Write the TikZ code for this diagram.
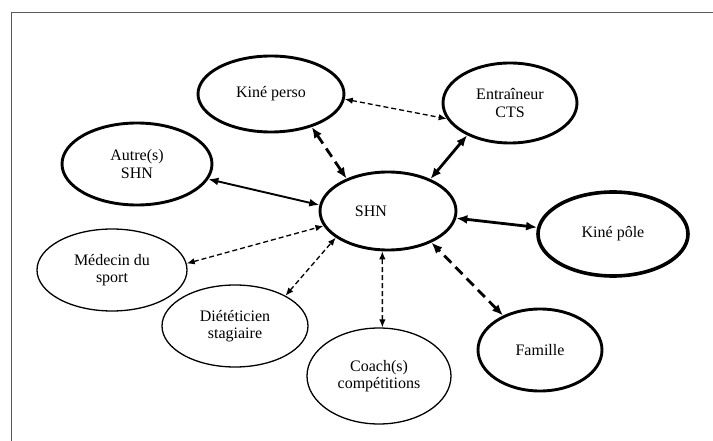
\documentclass[tikz,border=0pt]{standalone}
\usepackage{fontspec}
\setmainfont{Liberation Serif}
\usetikzlibrary{shapes.geometric,arrows.meta}
\begin{document}
\begin{tikzpicture}[x=1pt,y=-1pt,
  ell/.style={ellipse, draw, inner sep=0pt, align=center, font=\fontsize{16}{17.5}\selectfont},
  ellthick/.style={ell, line width=2.9pt},
  ellthin/.style={ell, line width=1.3pt},
  solidarr/.style={line width=2.8pt, {Latex[length=11pt,width=9pt]}-{Latex[length=11pt,width=9pt]}},
  midarr/.style={line width=1.9pt, {Latex[length=10pt,width=8pt]}-{Latex[length=10pt,width=8pt]}},
  bigdash/.style={line width=2.8pt, dash pattern=on 10pt off 6pt, {Latex[length=11pt,width=9pt]}-{Latex[length=11pt,width=9pt]}},
  smalldash/.style={line width=1.3pt, dash pattern=on 5pt off 3pt, {Latex[length=8pt,width=6.5pt]}-{Latex[length=8pt,width=6.5pt]}}
]
\useasboundingbox (0,0) rectangle (713,441);
\draw[line width=1pt, color=black!65] (11.5,441) -- (11.5,12.5) -- (713,12.5);

\node[ellthick, minimum width=136pt, minimum height=78pt] (shn) at (388,211) {SHN\hspace{34pt}};
\node[ellthick, minimum width=146pt, minimum height=76pt] (kperso) at (271,94) {Kiné perso};
\node[ellthick, minimum width=134pt, minimum height=80pt] (entr) at (510,103) {Entraîneur\\CTS};
\node[ellthick, minimum width=150pt, minimum height=82pt] (autre) at (137,164) {Autre(s)\\SHN};
\node[ell, line width=3.6pt, minimum width=150pt, minimum height=84pt] (kpole) at (613,234) {Kiné pôle};
\node[ellthick, minimum width=124pt, minimum height=82pt] (fam) at (540,350) {Famille};
\node[ellthin, minimum width=150pt, minimum height=82pt] (med) at (112,270) {Médecin du\\sport};
\node[ellthin, minimum width=146pt, minimum height=82pt] (diet) at (235,326) {Diététicien\\stagiaire};
\node[ellthin, minimum width=144pt, minimum height=96pt] (coach) at (379,376) {Coach(s)\\compétitions};

\draw[smalldash] (kperso.-4) -- (entr.194);
\draw[bigdash] (kperso.-39) -- (shn.142);
\draw[solidarr] (entr.217) -- (shn.37);
\draw[midarr] (autre.-12) -- (shn.175);
\draw[solidarr] (kpole.175) -- (shn.-6);
\draw[bigdash] (fam.137) -- (shn.-36);
\draw[smalldash] (med.5) -- (shn.193);
\draw[smalldash] (diet.31) -- (shn.207);
\draw[smalldash] (coach.86) -- (shn.-98);
\end{tikzpicture}
\end{document}
